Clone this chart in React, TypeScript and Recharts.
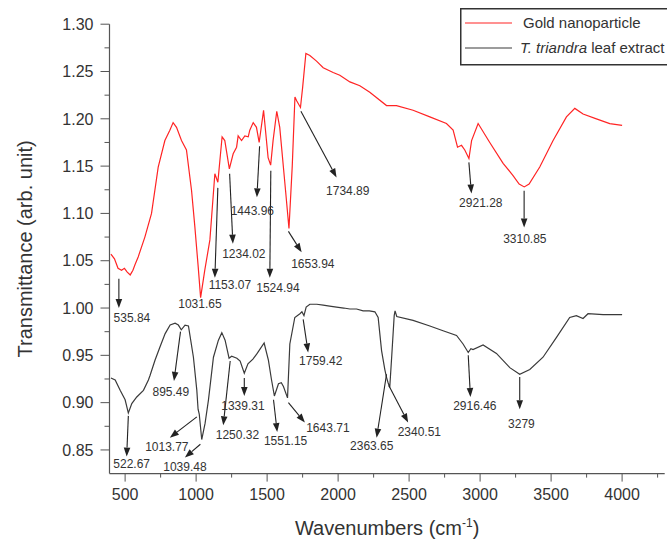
import { Legend, Line, LineChart, ReferenceDot, ReferenceLine, XAxis, YAxis } from "recharts";

// FTIR spectra: wavenumber (cm^-1) vs transmittance (arb. unit)
const goldWavenumber = [
  400, 425, 450, 475, 495, 515, 535.84, 555, 570, 592,
  639, 686, 733, 780, 815, 838, 862, 897, 932, 968,
  991, 1015, 1031.65, 1061, 1097, 1132, 1153.07, 1183, 1202, 1234.02,
  1261, 1285, 1296, 1320, 1343, 1367, 1378, 1402, 1425, 1443.96,
  1475, 1507, 1524.94, 1542, 1568, 1589, 1630, 1653.94, 1677, 1696,
  1708, 1734.89, 1750, 1773, 1801, 1848, 1895, 1965, 2012, 2083,
  2153, 2223, 2341, 2411, 2528, 2646, 2763, 2810, 2841, 2869,
  2892, 2921.28, 2940, 2986, 3068, 3162, 3232, 3275, 3310.85, 3345,
  3420, 3514, 3608, 3667, 3725, 3819, 3913, 4000,
];
const goldTransmittance = [
  1.057, 1.052, 1.042, 1.04, 1.042, 1.038, 1.035, 1.04, 1.046, 1.054,
  1.075, 1.1, 1.149, 1.177, 1.188, 1.196, 1.191, 1.177, 1.167, 1.124,
  1.086, 1.043, 1.011, 1.04, 1.072, 1.142, 1.133, 1.181, 1.177, 1.147,
  1.163, 1.17, 1.182, 1.177, 1.182, 1.181, 1.188, 1.196, 1.191, 1.175,
  1.209, 1.159, 1.151, 1.177, 1.208, 1.191, 1.124, 1.084, 1.15, 1.223,
  1.219, 1.212, 1.233, 1.269, 1.267, 1.261, 1.254, 1.249, 1.246, 1.239,
  1.235, 1.228, 1.214, 1.214, 1.209, 1.202, 1.195, 1.188, 1.17, 1.172,
  1.167, 1.158, 1.177, 1.195, 1.175, 1.153, 1.14, 1.131, 1.128, 1.131,
  1.149, 1.177, 1.202, 1.211, 1.205, 1.2, 1.195, 1.193,
];

const extractWavenumber = [
  400, 430, 465, 500, 522.67, 547, 582, 629, 664, 676,
  711, 746, 782, 817, 852, 875, 895.49, 922, 946, 981,
  1005, 1013.77, 1022, 1039.48, 1063, 1087, 1122, 1157, 1181, 1204,
  1232, 1250.32, 1287, 1310, 1339.31, 1365, 1400, 1430, 1479, 1509,
  1530, 1551.15, 1580, 1600, 1615, 1643.71, 1660, 1695, 1731, 1745,
  1759.42, 1775, 1801, 1850, 1895, 1940, 1989, 2040, 2083, 2130,
  2176, 2220, 2259, 2282, 2306, 2329, 2340.51, 2352, 2363.65, 2378,
  2395, 2401, 2413, 2528, 2646, 2739, 2834, 2880, 2916.46, 2935,
  2950, 3021, 3115, 3209, 3279, 3350, 3443, 3538, 3631, 3678,
  3725, 3760, 3866, 4000,
];
const extractTransmittance = [
  0.926, 0.924, 0.913, 0.903, 0.889, 0.899, 0.906, 0.913, 0.924, 0.929,
  0.945, 0.959, 0.973, 0.982, 0.984, 0.982, 0.977, 0.982, 0.981, 0.948,
  0.913, 0.893, 0.888, 0.861, 0.878, 0.903, 0.948, 0.966, 0.974, 0.966,
  0.947, 0.949, 0.947, 0.944, 0.931, 0.941, 0.946, 0.952, 0.963, 0.945,
  0.925, 0.907, 0.92, 0.921, 0.917, 0.905, 0.962, 0.99, 0.994, 0.996,
  0.992, 1.001, 1.004, 1.004, 1.003, 1.002, 1.001, 1.0, 0.999, 0.999,
  0.997, 0.997, 0.996, 0.99, 0.955, 0.935, 0.927, 0.921, 0.916, 0.95,
  0.992, 0.997, 0.991, 0.987, 0.981, 0.976, 0.971, 0.962, 0.953, 0.957,
  0.956, 0.961, 0.952, 0.937, 0.93, 0.935, 0.948, 0.969, 0.99, 0.992,
  0.989, 0.994, 0.993, 0.993,
];

// labelled (major) and unlabelled (minor) tick values
const xMajorTicks = [500, 1000, 1500, 2000, 2500, 3000, 3500, 4000];
const xMinorTicks = [750, 1250, 1750, 2250, 2750, 3250, 3750, 4250];
const yMajorTicks = [0.85, 0.9, 0.95, 1.0, 1.05, 1.1, 1.15, 1.2, 1.25, 1.3];
const yMinorTicks = [0.875, 0.925, 0.975, 1.025, 1.075, 1.125, 1.175, 1.225, 1.275];

const X_DOMAIN: [number, number] = [390, 4300];
const Y_DOMAIN: [number, number] = [0.825, 1.3];

type Pt = [number, number];
interface Peak {
  text: string;
  at: Pt; // label centre, data units
  tail?: Pt; // arrow start near the band
  tip?: Pt; // arrowhead
}

// band assignments, arrows run from the band towards the label
const goldPeaks: Peak[] = [
  { text: "535.84", tail: [456, 1.031], tip: [456, 1.0], at: [548, 0.99] },
  { text: "1031.65", at: [1027, 1.005] },
  { text: "1153.07", tail: [1153, 1.127], tip: [1132, 1.032], at: [1238, 1.025] },
  { text: "1234.02", tail: [1236, 1.142], tip: [1259, 1.068], at: [1336, 1.057] },
  { text: "1443.96", tail: [1447, 1.171], tip: [1428, 1.117], at: [1396, 1.103] },
  { text: "1524.94", tail: [1526, 1.145], tip: [1519, 1.032], at: [1576, 1.021] },
  { text: "1653.94", tail: [1650, 1.081], tip: [1743, 1.059], at: [1822, 1.047] },
  { text: "1734.89", tail: [1738, 1.208], tip: [1989, 1.138], at: [2068, 1.124] },
  { text: "2921.28", tail: [2921, 1.154], tip: [2939, 1.121], at: [3005, 1.111] },
  { text: "3310.85", tail: [3310, 1.124], tip: [3310, 1.085], at: [3315, 1.073] },
];

const extractPeaks: Peak[] = [
  { text: "522.67", tail: [522.67, 0.886], tip: [511, 0.843], at: [546, 0.836] },
  { text: "895.49", tail: [890, 0.975], tip: [844, 0.923], at: [822, 0.912] },
  { text: "1013.77", tail: [1005, 0.885], tip: [815, 0.863], at: [794, 0.853] },
  { text: "1039.48", tail: [1030, 0.856], tip: [921, 0.842], at: [921, 0.832] },
  { text: "1250.32", tail: [1240, 0.944], tip: [1191, 0.876], at: [1291, 0.866] },
  { text: "1339.31", tail: [1339.31, 0.926], tip: [1339.31, 0.907], at: [1330, 0.897] },
  { text: "1551.15", tail: [1545, 0.903], tip: [1571, 0.869], at: [1630, 0.86] },
  { text: "1643.71", tail: [1650, 0.9], tip: [1766, 0.879], at: [1928, 0.874] },
  { text: "1759.42", tail: [1754, 0.988], tip: [1789, 0.953], at: [1878, 0.944] },
  { text: "2363.65", tail: [2341, 0.93], tip: [2271, 0.863], at: [2237, 0.855] },
  { text: "2340.51", tail: [2357, 0.918], tip: [2493, 0.879], at: [2572, 0.869] },
  { text: "2916.46", tail: [2916.46, 0.95], tip: [2932, 0.906], at: [2963, 0.897] },
  { text: "3279", tail: [3279, 0.927], tip: [3279, 0.893], at: [3291, 0.878] },
];

const goldData = goldWavenumber.map((w, i) => ({ w, t: goldTransmittance[i] }));
const extractData = extractWavenumber.map((w, i) => ({ w, t: extractTransmittance[i] }));

const xAllTicks = [...xMajorTicks, ...xMinorTicks].sort((a, b) => a - b);
const yAllTicks = [...yMajorTicks, ...yMinorTicks].sort((a, b) => a - b);

const RED = "#ff2424";
const DARK = "#3a3a3a";
const INK = "#333";
const AXIS = "#555";

// tick marks are drawn here (tickSize 0 puts x/y right on the axis line),
// long for labelled values, short for the in-between ones
function XTick(props: any) {
  const { x, y, payload } = props;
  const major = xMajorTicks.includes(payload.value);
  return (
    <g>
      <line x1={x} x2={x} y1={y} y2={y + (major ? 8 : 4)} stroke={AXIS} />
      {major && (
        <text x={x} y={y + 15} dy="0.71em" textAnchor="middle" fontSize={16} fill={INK}>
          {payload.value}
        </text>
      )}
    </g>
  );
}

function YTick(props: any) {
  const { x, y, payload } = props;
  const major = yMajorTicks.some((v) => Math.abs(v - payload.value) < 1e-6);
  return (
    <g>
      <line x1={x - (major ? 9 : 5)} x2={x} y1={y} y2={y} stroke={AXIS} />
      {major && (
        <text x={x - 16} y={y} dy="0.36em" textAnchor="end" fontSize={16} fill={INK}>
          {payload.value.toFixed(2)}
        </text>
      )}
    </g>
  );
}

function Arrow(props: any) {
  const { x1, y1, x2, y2 } = props;
  const dx = x2 - x1;
  const dy = y2 - y1;
  const len = Math.hypot(dx, dy) || 1;
  const ux = dx / len;
  const uy = dy / len;
  const head = 9;
  const half = 3.3;
  const bx = x2 - ux * head;
  const by = y2 - uy * head;
  return (
    <g>
      <line x1={x1} y1={y1} x2={bx} y2={by} stroke="#222" strokeWidth={1.1} />
      <polygon
        points={`${x2},${y2} ${bx - uy * half},${by + ux * half} ${bx + uy * half},${by - ux * half}`}
        fill="#222"
      />
    </g>
  );
}

function PeakText(text: string) {
  return (props: any) => (
    <text x={props.cx} y={props.cy} dy="0.36em" textAnchor="middle" fontSize={12} fill={INK}>
      {text}
    </text>
  );
}

function XTitle(props: any) {
  const vb = props.viewBox;
  return (
    <text x={vb.x + vb.width / 2} y={535} textAnchor="middle" fontSize={20} fill={INK}>
      Wavenumbers (cm
      <tspan dy={-8} fontSize={12}>-1</tspan>
      <tspan dy={8}>)</tspan>
    </text>
  );
}

function YTitle(props: any) {
  const vb = props.viewBox;
  const cy = vb.y + vb.height / 2;
  return (
    <text x={32} y={cy} transform={`rotate(-90, 32, ${cy})`} textAnchor="middle" fontSize={20} fill={INK}>
      Transmittance (arb. unit)
    </text>
  );
}

function LegendBox() {
  return (
    <svg width={215} height={58} style={{ display: "block" }}>
      <rect x={0.75} y={0.75} width={213} height={56} fill="#fff" stroke={INK} strokeWidth={1.5} />
      <line x1={5} y1={15} x2={52} y2={15} stroke={RED} strokeWidth={1.2} />
      <text x={63} y={15} dy="0.36em" fontSize={15} fill={INK}>
        Gold nanoparticle
      </text>
      <line x1={5} y1={40} x2={52} y2={40} stroke={DARK} strokeWidth={1.2} />
      <text x={60} y={40} dy="0.36em" fontSize={15} fill={INK}>
        <tspan fontStyle="italic">T. triandra</tspan> leaf extract
      </text>
    </svg>
  );
}

function annotations(peaks: Peak[], key: string) {
  const out: any[] = [];
  peaks.forEach((p, i) => {
    if (p.tail && p.tip) {
      out.push(
        <ReferenceLine
          key={`${key}-a${i}`}
          segment={[
            { x: p.tail[0], y: p.tail[1] },
            { x: p.tip[0], y: p.tip[1] },
          ]}
          ifOverflow="visible"
          shape={Arrow}
        />
      );
    }
    out.push(
      <ReferenceDot key={`${key}-t${i}`} x={p.at[0]} y={p.at[1]} r={0} ifOverflow="visible" shape={PeakText(p.text)} />
    );
  });
  return out;
}

export default function App() {
  return (
    <div
      style={{
        position: "absolute",
        left: 0,
        top: 0,
        width: 667,
        height: 545,
        overflow: "hidden",
        background: "#fff",
        fontFamily: '"Liberation Sans", Arial, sans-serif',
      }}
    >
      <LineChart width={667} height={545} margin={{ top: 24.2, right: 2.3, bottom: 31.4, left: 49.5 }}>
        <XAxis
          dataKey="w"
          type="number"
          domain={X_DOMAIN}
          allowDataOverflow
          ticks={xAllTicks}
          interval={0}
          tickSize={0}
          tickMargin={0}
          tick={XTick}
          axisLine={{ stroke: AXIS, strokeWidth: 1.2 }}
          tickLine={false}
          height={40}
          label={XTitle}
        />
        <YAxis
          type="number"
          domain={Y_DOMAIN}
          allowDataOverflow
          ticks={yAllTicks}
          interval={0}
          tickSize={0}
          tickMargin={0}
          tick={YTick}
          axisLine={{ stroke: AXIS, strokeWidth: 1.2 }}
          tickLine={false}
          width={60}
          label={YTitle}
        />
        <Legend
          layout="horizontal"
          verticalAlign="middle"
          align="center"
          wrapperStyle={{ position: "absolute", left: 460, top: 8, width: 215, height: 58 }}
          content={() => <LegendBox />}
        />
        <Line
          data={extractData}
          dataKey="t"
          name="T. triandra leaf extract"
          type="linear"
          stroke={DARK}
          strokeWidth={1.2}
          dot={false}
          activeDot={false}
          isAnimationActive={false}
        />
        <Line
          data={goldData}
          dataKey="t"
          name="Gold nanoparticle"
          type="linear"
          stroke={RED}
          strokeWidth={1.2}
          dot={false}
          activeDot={false}
          isAnimationActive={false}
        />
        {annotations(goldPeaks, "g")}
        {annotations(extractPeaks, "e")}
      </LineChart>
    </div>
  );
}
